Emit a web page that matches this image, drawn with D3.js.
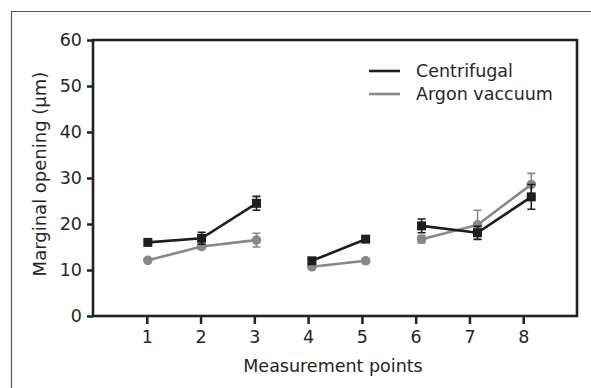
<!DOCTYPE html>
<html><head><meta charset="utf-8">
<script src="https://cdn.jsdelivr.net/npm/d3@7/dist/d3.min.js"></script>
<style>body{margin:0;background:#fff}svg{display:block}text{font-family:"DejaVu Sans",sans-serif;fill:#262626}</style>
</head><body><svg id="c" width="591" height="388"></svg>
<script>
const points = [1,2,3,4,5,6,7,8];
const xPos = [1.02,2.02,3.04,4.07,5.07,6.11,7.15,8.15];
const groups = [[0,1,2],[3,4],[5,6,7]];
const centrifugal = [16.0,16.9,24.5,12.0,16.7,19.6,18.1,25.9];
const centrifugalErr = [0.5,1.3,1.5,0.4,0.4,1.5,1.4,2.7];
const argon = [12.1,15.1,16.5,10.7,12.0,16.7,19.8,28.6];
const argonErr = [0.4,0.5,1.5,0.4,0.4,0.8,3.2,2.4];
const yTicks = [0,10,20,30,40,50,60];
const seriesNames = ["Centrifugal","Argon vaccuum"];

const svg = d3.select("#c");
const m = {l:93,t:40,r:577,b:316};
const x = d3.scaleLinear().domain([0,9]).range([m.l,m.r]);
const y = d3.scaleLinear().domain([0,60]).range([m.b,m.t]);

svg.append("path").attr("d","M11.5,400V11.5H600").attr("fill","none").attr("stroke","#555").attr("stroke-width",1.2);

const xa = svg.append("g").attr("transform",`translate(0,${m.b})`)
  .call(d3.axisBottom(x).tickValues(points).tickSize(8).tickPadding(7).tickFormat(d3.format("d")));
const ya = svg.append("g").attr("transform",`translate(${m.l},0)`)
  .call(d3.axisLeft(y).tickValues(yTicks).tickSize(6).tickPadding(5));
[xa,ya].forEach(a=>{
  a.select(".domain").remove();
  a.selectAll("line").attr("stroke","#222").attr("stroke-width",2.5);
  a.selectAll("text").style("font-size","17.5px").attr("fill","#262626");
});
svg.append("rect").attr("x",m.l).attr("y",m.t).attr("width",m.r-m.l).attr("height",m.b-m.t)
  .attr("fill","none").attr("stroke","#222").attr("stroke-width",2.6);

function drawSeries(vals, errs, color, shape){
  const g = svg.append("g");
  const line = d3.line().x(i=>x(xPos[i])).y(i=>y(vals[i]));
  groups.forEach(gr=>g.append("path").attr("d",line(gr)).attr("fill","none").attr("stroke",color).attr("stroke-width",2.6));
  points.forEach((p,i)=>{
    const cx = x(xPos[i]);
    const hi = y(vals[i]+errs[i]), lo = y(vals[i]-errs[i]);
    g.append("path").attr("d",`M${cx},${hi}V${lo}M${cx-4},${hi}H${cx+4}M${cx-4},${lo}H${cx+4}`)
      .attr("stroke",color).attr("stroke-width",1.6).attr("fill","none");
    if(shape==="square") g.append("rect").attr("x",cx-4.5).attr("y",y(vals[i])-4.5).attr("width",9).attr("height",9).attr("fill",color);
    else g.append("circle").attr("cx",cx).attr("cy",y(vals[i])).attr("r",4.8).attr("fill",color);
  });
}
drawSeries(argon, argonErr, "#878787", "circle");
drawSeries(centrifugal, centrifugalErr, "#1e1e1e", "square");

const lg = svg.append("g");
[["#1e1e1e",71],["#878787",94]].forEach((d,i)=>{
  lg.append("line").attr("x1",369).attr("x2",400).attr("y1",d[1]).attr("y2",d[1]).attr("stroke",d[0]).attr("stroke-width",2.6);
  lg.append("text").attr("x",416).attr("y",d[1]+6).style("font-size","17.5px").text(seriesNames[i]);
});

svg.append("text").attr("x",333).attr("y",372).attr("text-anchor","middle").style("font-size","17.5px").text("Measurement points");
svg.append("text").attr("transform",`translate(46,174) rotate(-90)`).attr("text-anchor","middle").style("font-size","18px").text("Marginal opening (µm)");
</script></body></html>
